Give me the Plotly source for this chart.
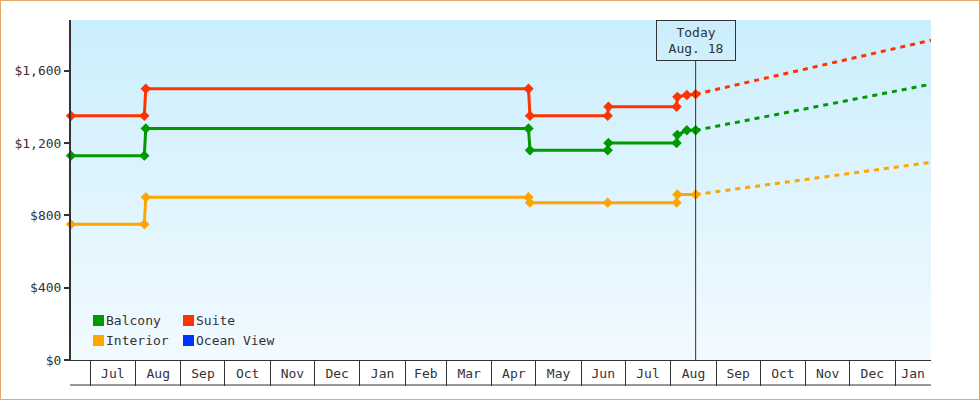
import plotly.graph_objects as go
import pandas as pd

# ---------------- data ----------------
series_names = ["Balcony", "Suite", "Interior", "Ocean View"]
series_colors = ["#009900", "#ff3300", "#ffa500", "#0033ff"]

balcony_dates = ["2024-06-18", "2024-08-07", "2024-08-08", "2025-04-26", "2025-04-27",
                 "2025-06-19", "2025-06-19 12:00", "2025-08-05", "2025-08-05 12:00",
                 "2025-08-12", "2025-08-18"]
balcony_prices = [1130, 1130, 1280, 1280, 1160, 1160, 1200, 1200, 1245, 1270, 1270]

suite_dates = ["2024-06-18", "2024-08-07", "2024-08-08", "2025-04-26", "2025-04-27",
               "2025-06-19", "2025-06-19 12:00", "2025-08-05", "2025-08-05 12:00",
               "2025-08-12", "2025-08-18"]
suite_prices = [1350, 1350, 1500, 1500, 1350, 1350, 1400, 1400, 1455, 1465, 1470]

interior_dates = ["2024-06-18", "2024-08-07", "2024-08-08", "2025-04-26", "2025-04-27",
                  "2025-06-19", "2025-08-05", "2025-08-05 12:00", "2025-08-18"]
interior_prices = [750, 750, 900, 900, 870, 870, 870, 915, 915]

ocean_view_dates = []
ocean_view_prices = []

forecast_dates = ["2025-08-18", "2026-01-25 12:00"]
balcony_forecast = [1270, 1525]
suite_forecast = [1470, 1768]
interior_forecast = [915, 1093]
ocean_view_forecast = []

today = "2025-08-18"
today_label = "Today<br>Aug. 18"

x_range = ["2024-06-18 00:00", "2026-01-25 12:00"]
y_range = [0, 1880]
y_tick_values = [0, 400, 800, 1200, 1600]
y_tick_labels = ["$0", "$400", "$800", "$1,200", "$1,600"]
month_starts = ["2024-07-01", "2024-08-01", "2024-09-01", "2024-10-01", "2024-11-01",
                "2024-12-01", "2025-01-01", "2025-02-01", "2025-03-01", "2025-04-01",
                "2025-05-01", "2025-06-01", "2025-07-01", "2025-08-01", "2025-09-01",
                "2025-10-01", "2025-11-01", "2025-12-01", "2026-01-01"]
month_labels = ["Jul", "Aug", "Sep", "Oct", "Nov", "Dec", "Jan", "Feb", "Mar", "Apr",
                "May", "Jun", "Jul", "Aug", "Sep", "Oct", "Nov", "Dec", "Jan"]

# ---------------- layout geometry ----------------
W, H = 980, 400
ML, MR, MT, MB = 71, 49, 20, 40
PW, PH = W - ML - MR, H - MT - MB
FONT = "DejaVu Sans Mono"
INK = "#333333"


def px_x(px):
    return (px - ML) / PW


def px_y(py):
    return (H - MB - py) / PH


# label positions: centre of the visible part of each month cell
range_end = pd.Timestamp(x_range[1])
label_pos = []
for s in month_starts:
    s = pd.Timestamp(s)
    e = min(s + pd.DateOffset(months=1), range_end)
    label_pos.append((s + (e - s) / 2).strftime("%Y-%m-%d %H:%M:%S"))

fig = go.Figure()

step_series = [
    (balcony_dates, balcony_prices, balcony_forecast, series_colors[0]),
    (suite_dates, suite_prices, suite_forecast, series_colors[1]),
    (interior_dates, interior_prices, interior_forecast, series_colors[2]),
    (ocean_view_dates, ocean_view_prices, ocean_view_forecast, series_colors[3]),
]
for dates, prices, fc, color in step_series:
    if not dates:
        continue
    fig.add_trace(go.Scatter(
        x=forecast_dates, y=fc, mode="lines",
        line=dict(color=color, width=3, dash="5px,5px"),
        showlegend=False, hoverinfo="skip"))
    fig.add_trace(go.Scatter(
        x=dates, y=prices, mode="lines+markers", cliponaxis=False,
        line=dict(color=color, width=3),
        marker=dict(symbol="diamond", size=8, color=color, line=dict(width=0)),
        showlegend=False, hoverinfo="skip"))

# invisible trace to carry the separator axis
fig.add_trace(go.Scatter(x=[x_range[0]], y=[None], xaxis="x2", yaxis="y",
                         mode="markers", showlegend=False, hoverinfo="skip"))

shapes = []
# gradient plot background
N = 68
c0 = (203, 238, 252)   # top
c1 = (241, 250, 255)   # bottom
for i in range(N):
    t = i / (N - 1)
    r = round(c0[0] + (c1[0] - c0[0]) * t)
    g = round(c0[1] + (c1[1] - c0[1]) * t)
    b = round(c0[2] + (c1[2] - c0[2]) * t)
    y1 = 1 - i / N
    y0 = 1 - (i + 1) / N
    shapes.append(dict(type="rect", xref="paper", yref="paper", x0=0, x1=1,
                       y0=max(0, y0 - 0.002), y1=y1, fillcolor=f"rgb({r},{g},{b})",
                       line=dict(width=0), layer="below"))

# today line
shapes.append(dict(type="line", xref="x", yref="paper", x0=today, x1=today,
                   y0=0, y1=px_y(61), line=dict(color=INK, width=1)))
# bottom line of the month cells
shapes.append(dict(type="line", xref="paper", yref="paper", x0=px_x(70), x1=1,
                   y0=px_y(385), y1=px_y(385), line=dict(color=INK, width=1)))
# figure border
shapes.append(dict(type="rect", xref="paper", yref="paper",
                   x0=px_x(0), x1=px_x(W), y0=px_y(H), y1=px_y(0),
                   line=dict(color="#e6a865", width=2)))

annotations = []
# manual legend (two columns)
legend_cols = [93, 183]
legend_rows = [320.5, 340.5]
legend_cells = [(0, 0), (1, 0), (0, 1), (1, 1)]
for name, color, (ci, ri) in zip(series_names, series_colors, legend_cells):
    cx, cy = legend_cols[ci], legend_rows[ri]
    shapes.append(dict(type="rect", xref="paper", yref="paper",
                       x0=px_x(cx), x1=px_x(cx + 11),
                       y0=px_y(cy + 5.5), y1=px_y(cy - 5.5),
                       fillcolor=color, line=dict(width=0)))
    annotations.append(dict(text=name, xref="paper", yref="paper",
                            x=px_x(cx + 13), y=px_y(cy), xanchor="left", yanchor="middle",
                            showarrow=False, borderpad=0, borderwidth=0,
                            font=dict(family=FONT, size=13, color=INK)))

# today box
annotations.append(dict(text=today_label, xref="x", yref="paper", x=today, y=1,
                        xanchor="center", yanchor="top", showarrow=False,
                        bordercolor=INK, borderwidth=1, borderpad=2,
                        width=74, height=35, align="center",
                        font=dict(family=FONT, size=13, color=INK)))

fig.update_layout(
    width=W, height=H,
    margin=dict(l=ML, r=MR, t=MT, b=MB, pad=0),
    paper_bgcolor="white", plot_bgcolor="rgba(0,0,0,0)",
    font=dict(family=FONT, size=13, color=INK),
    showlegend=False,
    shapes=shapes, annotations=annotations,
    xaxis=dict(type="date", range=x_range, tickvals=label_pos, ticktext=month_labels,
               ticks="", showgrid=False, zeroline=False, showline=True,
               linecolor=INK, linewidth=1, ticklabelstandoff=1,
               tickfont=dict(family=FONT, size=13, color=INK)),
    xaxis2=dict(type="date", range=x_range, overlaying="x", side="bottom",
                tickvals=month_starts, ticks="outside", ticklen=25,
                tickwidth=1, tickcolor=INK, showticklabels=False, showgrid=False,
                zeroline=False, showline=False),
    yaxis=dict(range=y_range, tickvals=y_tick_values, ticktext=y_tick_labels,
               ticks="outside", ticklen=5, tickwidth=2, tickcolor=INK,
               showline=True, linecolor=INK, linewidth=2, showgrid=False, zeroline=False,
               tickfont=dict(family=FONT, size=13, color=INK)),
)

fig.write_html("out.html", config={"displayModeBar": False, "staticPlot": True},
               post_script="document.body.style.margin='0';document.body.style.overflow='hidden';")
